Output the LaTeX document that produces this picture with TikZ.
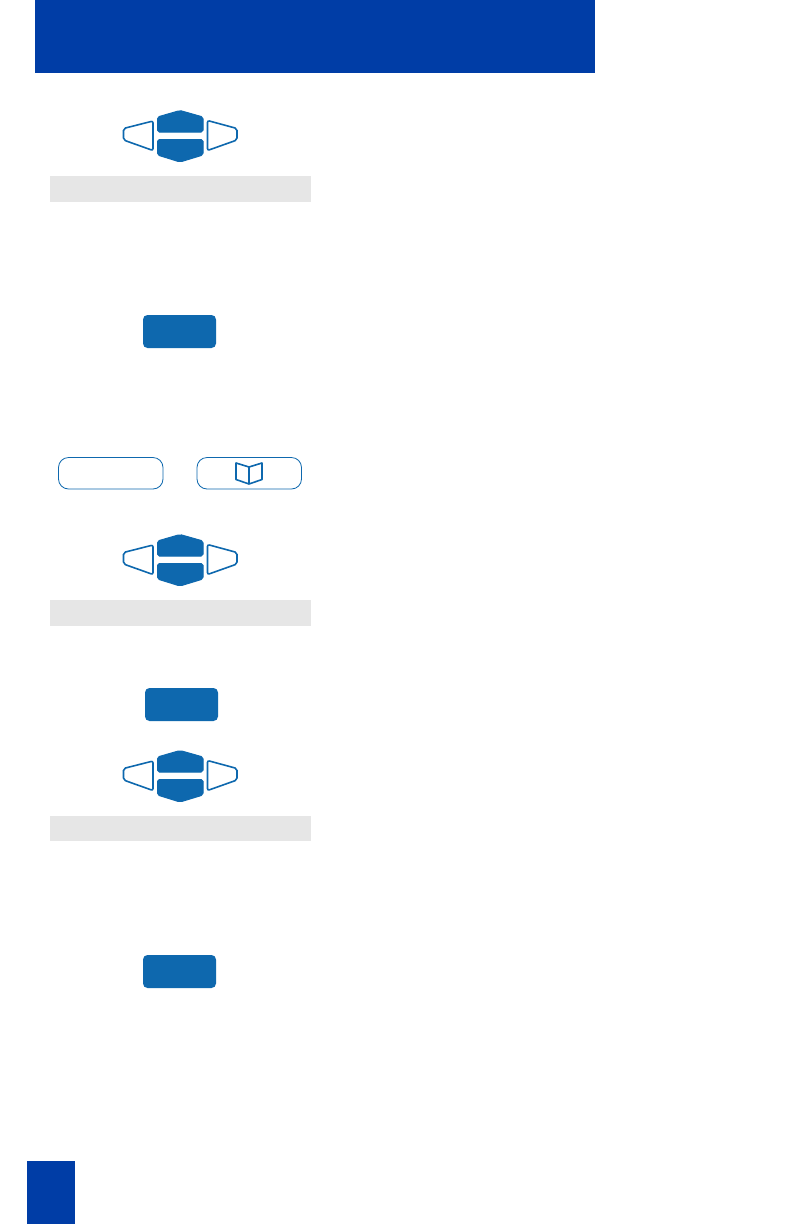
\documentclass[tikz,border=0pt]{standalone}
\definecolor{hdrblue}{HTML}{003DA6}
\definecolor{keyblue}{HTML}{0E68AE}
\definecolor{barg}{HTML}{E6E6E6}
\tikzset{
  navsolid/.style={fill=keyblue,draw=keyblue,line width=1pt,rounded corners=1.8pt},
  navopen/.style={draw=keyblue,line width=1.6pt,fill=white,rounded corners=2pt},
  softkey/.style={fill=keyblue,draw=none,rounded corners=4.5pt},
  barbox/.style={fill=barg,draw=none},
  outlinekey/.style={draw=keyblue,line width=0.8pt,fill=white,rounded corners=10pt},
  bookline/.style={draw=keyblue,line width=1.6pt,line join=round},
  navcluster/.pic={
    \draw[navopen] (123.5,128.5) -- (153,121) -- (153,150.5) -- (123.5,140) -- cycle;
    \draw[navopen] (237,128.5) -- (207.5,120.5) -- (207.5,150.5) -- (237,140) -- cycle;
    \path[navsolid] (157.5,132) -- (157.5,117) -- (180,110.5) -- (203,117) -- (203,132) -- cycle;
    \path[navsolid] (157.5,139.5) -- (157.5,155) -- (180,162) -- (203,155) -- (203,139.5) -- cycle;
  }
}
\begin{document}
\begin{tikzpicture}[x=1pt,y=-1pt]
\useasboundingbox (0,0) rectangle (792,1224);
\fill[white] (0,0) rectangle (792,1224);
\fill[hdrblue] (35,0) rectangle (595,73);
\fill[hdrblue] (27,1161) rectangle (75,1224);
\pic at (0,0) {navcluster};
\pic at (0,424) {navcluster};
\pic at (0,640) {navcluster};
\path[barbox] (50,176) rectangle (311,202);
\path[barbox] (50,600) rectangle (311,626);
\path[barbox] (50,815.5) rectangle (311,841);
\path[softkey] (143,315) rectangle (216,348);
\path[softkey] (145,688) rectangle (218,721);
\path[softkey] (143,955) rectangle (216,988);
\draw[outlinekey] (58.5,457.5) rectangle (163,489);
\draw[outlinekey] (197,457.5) rectangle (301.5,489);
\draw[bookline] (249,467) -- (249,484) -- (236,479.5) -- (236,463) -- (249,467) -- (262,463) -- (262,479.5) -- (249,484);
\end{tikzpicture}
\end{document}
